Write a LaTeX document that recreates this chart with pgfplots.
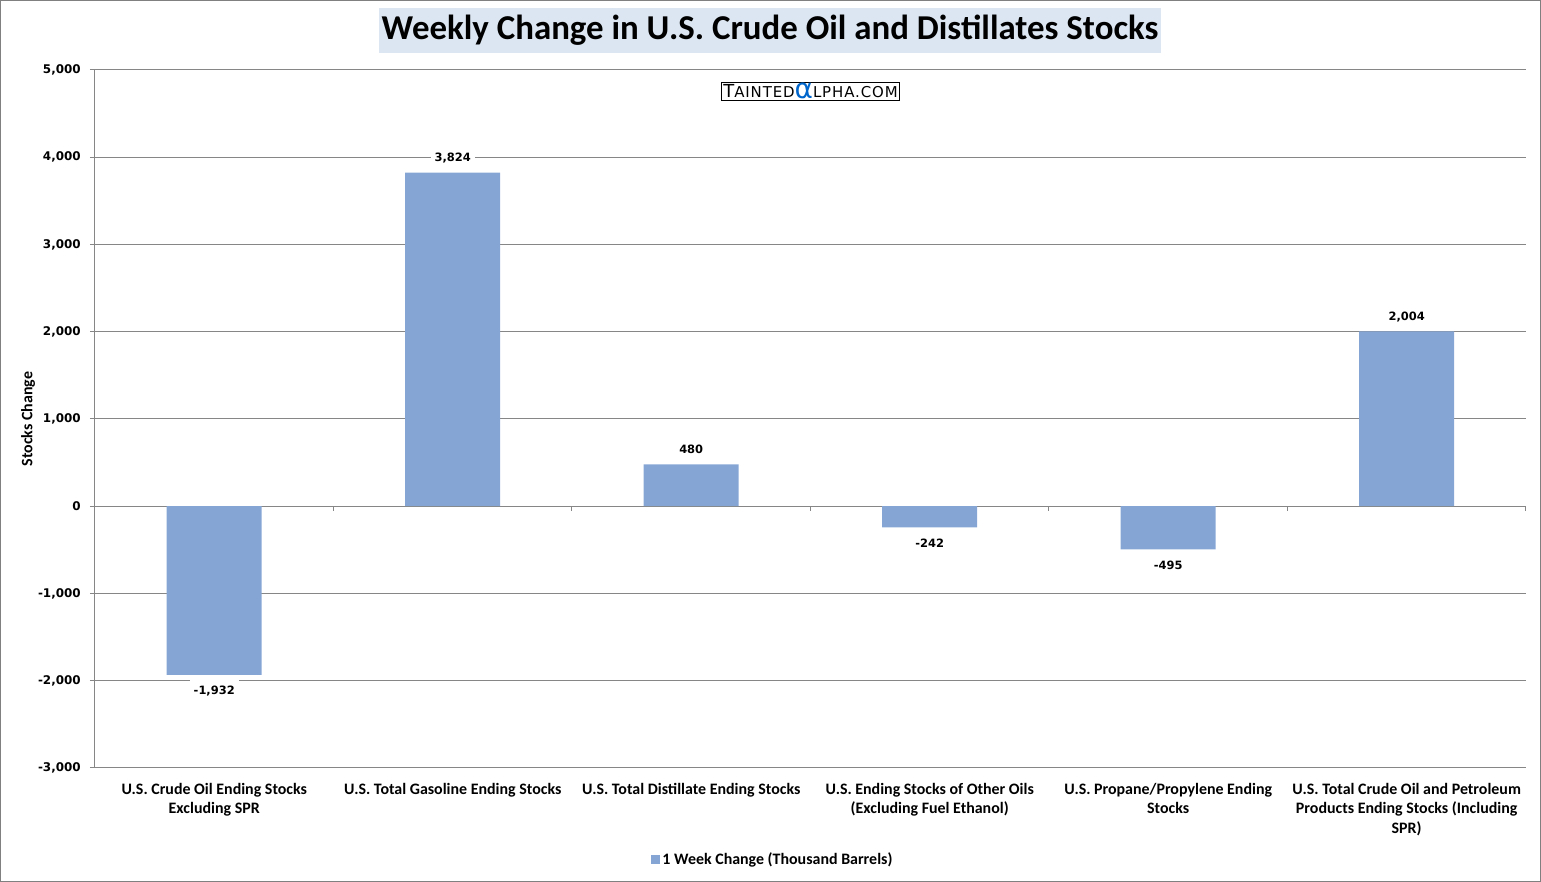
\documentclass[border=0pt]{standalone}
\usepackage{pgfplots}
\pgfplotsset{compat=1.18}
\usepackage{fontspec}
\setmainfont{Carlito}
\newfontfamily\tahoma{DejaVu Sans}
\newfontfamily\logofont{DejaVu Sans}[LetterSpace=6]

\definecolor{barblue}{RGB}{133,166,212}
\definecolor{gridgray}{RGB}{134,134,134}
\definecolor{titlebg}{RGB}{220,230,242}
\definecolor{alphablue}{RGB}{0,102,204}

\begin{document}
\begin{tikzpicture}
\useasboundingbox (0bp,0bp) rectangle (1541bp,882bp);
\draw[gray, line width=1.2bp] (0.6bp,0.6bp) rectangle (1540.4bp,881.4bp);

% title
\node[fill=titlebg, inner xsep=3bp, inner ysep=0pt, minimum height=45bp,
      font=\fontsize{35}{40}\selectfont\bfseries] at (770bp,851.5bp)
  {Weekly Change in U.S. Crude Oil and Distillates Stocks};

\begin{axis}[
  at={(95bp,114bp)}, anchor=south west,
  scale only axis,
  width=1431bp, height=698bp,
  xmin=-0.5, xmax=5.5,
  ymin=-3000, ymax=5000,
  ytick={-3000,-2000,...,5000},
  xtick={0,1,2,3,4,5},
  axis lines*=left,
  axis line style={gridgray, line width=1bp},
  ymajorgrids,
  grid style={gridgray, line width=1bp},
  tick align=outside,
  major tick length=5bp,
  ytick style={gridgray, line width=1bp},
  xtick style={draw=none},
  /pgf/number format/.cd, 1000 sep={,}, assume math mode=true,
  /pgfplots/.cd,
  yticklabel style={font=\tahoma\bfseries\fontsize{12}{14}\selectfont,
                    anchor=east, inner sep=0pt, xshift=-9bp},
  xticklabels={
    {U.S. Crude Oil Ending Stocks\\Excluding SPR},
    {U.S. Total Gasoline Ending Stocks},
    {U.S. Total Distillate Ending Stocks},
    {U.S. Ending Stocks of Other Oils\\(Excluding Fuel Ethanol)},
    {U.S. Propane/Propylene Ending\\Stocks},
    {U.S. Total Crude Oil and Petroleum\\Products Ending Stocks (Including\\SPR)}},
  xticklabel style={font=\bfseries\fontsize{16}{19.5}\selectfont,
                    align=center, anchor=north, inner sep=0pt, yshift=-10bp},
  ylabel={Stocks Change},
  ylabel style={font=\bfseries\fontsize{16}{18}\selectfont,
                at={(axis description cs:-0.0468,0.5)}, rotate=0, anchor=center},
  nodes near coords,
  nodes near coords align=vertical,
  every node near coord/.append style={
    font=\tahoma\bfseries\fontsize{11.5}{13}\selectfont,
    fill=white, inner xsep=4bp, inner ysep=3bp,
    text height=16.8bp, text depth=7.7bp},
  legend style={at={(axis description cs:0.4738,-0.1304)}, anchor=center,
                draw=none, fill=none, inner sep=0pt,
                font=\bfseries\fontsize{16}{18}\selectfont},
  legend image code/.code={\fill[#1] (0bp,-4.5bp) rectangle (9bp,4.5bp);},
]
\addplot[ybar, bar width=95bp, fill=barblue, draw=none]
  coordinates {(0,-1932) (1,3824) (2,480) (3,-242) (4,-495) (5,2004)};
\addlegendentry{1 Week Change (Thousand Barrels)}
\pgfplotsinvokeforeach{0.5,1.5,2.5,3.5,4.5,5.5}{
  \draw[gridgray, line width=1bp] (axis cs:#1,0) -- ([yshift=-5bp]axis cs:#1,0);
}
\end{axis}

% logo
\node[draw=black, line width=0.8bp, fill=white, inner xsep=2bp, inner ysep=1bp,
      font=\logofont] at (810.5bp,791bp)
  {\fontsize{18}{16}\selectfont T\fontsize{15}{14}\selectfont AINTED%
   {\color{alphablue}\fontsize{28}{16}\selectfont\raisebox{-1.5bp}{α}}%
   \fontsize{15}{14}\selectfont LPHA.COM};
\end{tikzpicture}
\end{document}
